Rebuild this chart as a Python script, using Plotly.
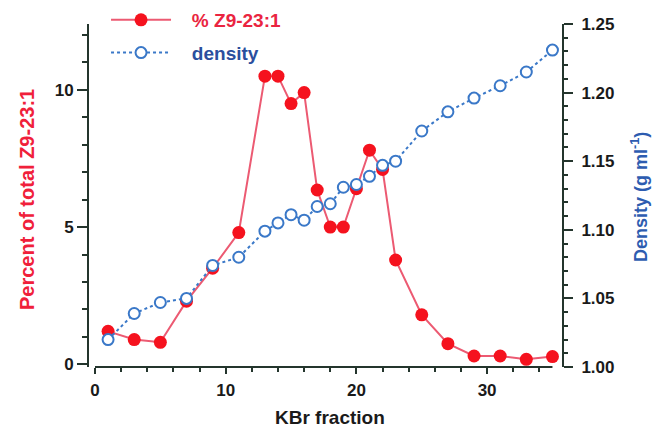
import plotly.graph_objects as go

fraction_z9 = [1, 3, 5, 7, 9, 11, 13, 14, 15, 16, 17, 18, 19, 20, 21, 22, 23, 25, 27, 29, 31, 33, 35]
percent_z9 = [1.2, 0.9, 0.8, 2.3, 3.5, 4.8, 10.5, 10.5, 9.5, 9.9, 6.35, 5.0, 5.0, 6.4, 7.8, 7.1, 3.8, 1.8, 0.75, 0.3, 0.3, 0.18, 0.28]

fraction_density = [1, 3, 5, 7, 9, 11, 13, 14, 15, 16, 17, 18, 19, 20, 21, 22, 23, 25, 27, 29, 31, 33, 35]
density = [1.020, 1.039, 1.047, 1.050, 1.074, 1.080, 1.099, 1.105, 1.111, 1.107, 1.117, 1.119,
           1.131, 1.133, 1.139, 1.147, 1.150, 1.172, 1.186, 1.196, 1.205, 1.215, 1.231]

left_ticks = [0, 5, 10]
right_ticks = [1.00, 1.05, 1.10, 1.15, 1.20, 1.25]
x_ticks = [0, 10, 20, 30]

AX = "#24352d"
RED = "#f5121e"
REDLINE = "#ec5a72"
BLUE = "#3a78c8"
FONT = "Liberation Sans, Arial, sans-serif"
PAD = "&nbsp;&nbsp;&nbsp;"

fig = go.Figure()

fig.add_trace(go.Scatter(
    x=fraction_density, y=density, yaxis="y2", mode="lines+markers",
    name=PAD + "<span style='color:#2b4f9e'>density</span>",
    line=dict(color=BLUE, width=2, dash="dot"),
    marker=dict(symbol="circle", size=11, color="white", line=dict(width=2, color=BLUE)),
    legendgroup="b", legendrank=2,
))
fig.add_trace(go.Scatter(
    x=fraction_z9, y=percent_z9, mode="lines+markers",
    name=PAD + "<span style='color:#ea2440'>% Z9-23:1</span>",
    line=dict(color=REDLINE, width=2),
    marker=dict(symbol="circle", size=13, color=RED),
    legendgroup="a", legendrank=1,
))

fig.add_shape(type="line", xref="x", yref="paper", x0=0, x1=max(fraction_z9), y0=0, y1=0,
              line=dict(color=AX, width=2))

fig.update_layout(
    width=665, height=447,
    margin=dict(l=81, r=111, t=16, b=88, autoexpand=False),
    paper_bgcolor="white", plot_bgcolor="white",
    font=dict(family=FONT, size=17, color="#1a1a1a", weight="bold"),
    showlegend=True,
    legend=dict(x=0.036, y=1.067, xanchor="left", yanchor="top",
                bgcolor="rgba(0,0,0,0)", itemwidth=60, tracegroupgap=5, traceorder="grouped",
                font=dict(family=FONT, size=19, weight="bold")),
    xaxis=dict(range=[-0.46, 35.73], tickvals=x_ticks, showline=False, showgrid=False, zeroline=False,
               ticks="outside", ticklen=6, tickwidth=2, tickcolor=AX, automargin=False,
               ticklabelstandoff=2,
               minor=dict(dtick=2, tick0=0, ticks="outside", ticklen=4, tickwidth=2, tickcolor=AX),
               tickfont=dict(size=17, color="#1a1a1a")),
    yaxis=dict(range=[-0.1, 12.4], tickvals=left_ticks, showline=True, linecolor=AX, linewidth=2,
               showgrid=False, zeroline=False, ticks="outside", ticklen=10, tickwidth=2, tickcolor=AX,
               automargin=False,
               minor=dict(dtick=1, tick0=0, ticks="outside", ticklen=5, tickwidth=2, tickcolor=AX),
               tickfont=dict(size=17, color="#1a1a1a")),
    yaxis2=dict(range=[1.0, 1.25], tickvals=right_ticks, tickformat=".2f", overlaying="y", side="right",
                showline=True, linecolor=AX, linewidth=2, showgrid=False, zeroline=False,
                ticks="outside", ticklen=9, tickwidth=2, tickcolor=AX, automargin=False,
                ticklabelstandoff=5,
                minor=dict(dtick=0.01, tick0=1.0, ticks="outside", ticklen=4, tickwidth=2, tickcolor=AX),
                tickfont=dict(size=17, color="#1a1a1a")),
    annotations=[
        dict(text="KBr fraction", xref="paper", yref="paper", x=0.51, y=-0.146, yanchor="middle",
             showarrow=False, font=dict(size=19, color="#1a1a1a", family=FONT, weight="bold")),
        dict(text="Percent of total Z9-23:1", xref="paper", yref="paper", x=-0.131, y=0.487,
             textangle=-90, showarrow=False, xanchor="center", yanchor="middle",
             font=dict(size=20, color="#f0203a", family=FONT, weight="bold")),
        dict(text="Density (g ml<sup>-1</sup>)", xref="paper", yref="paper", x=1.165, y=0.496,
             textangle=-90, showarrow=False, xanchor="center", yanchor="middle",
             font=dict(size=18, color="#2d5cb0", family=FONT, weight="bold")),
    ],
)

fig.write_html("out.html")
